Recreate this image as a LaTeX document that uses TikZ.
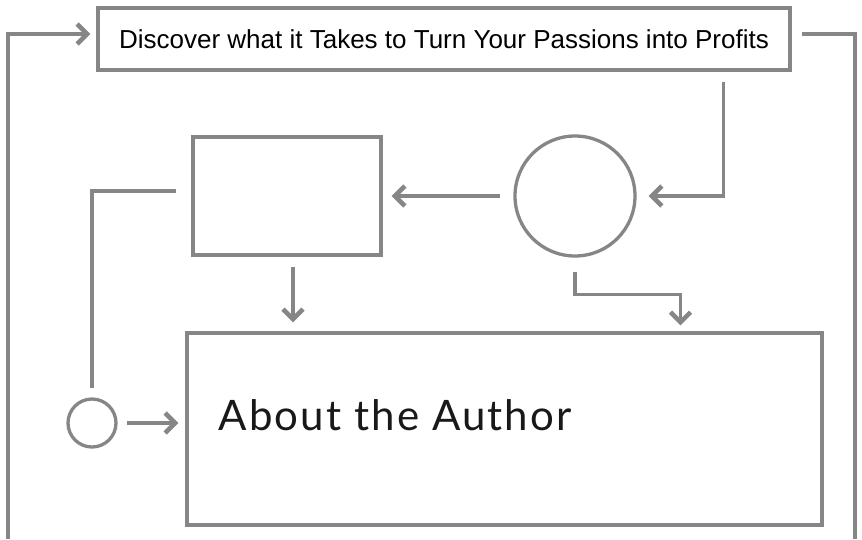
\documentclass[tikz,border=0pt]{standalone}
\usepackage{fontspec}
\setmainfont{Liberation Sans}
\newfontfamily\handfont[LetterSpace=5]{Lato}
\usetikzlibrary{arrows.meta,positioning}

\begin{document}
\begin{tikzpicture}[x=1pt,y=-1pt, box/.style={draw=gray!95,line width=3.3pt,fill=white,inner sep=0pt}, roundbox/.style={draw=gray!95,line width=3.3pt,circle,inner sep=0pt}, line/.style={draw=gray!95,line width=3.3pt}, arrow/.style={line,-{Straight Barb[length=10pt,width=20pt,line width=4.5pt]}}]
\useasboundingbox (0,0) rectangle (862,539);
\node[box,minimum width=692pt,minimum height=62pt,font=\fontsize{26}{30}\selectfont] (title) at (444,39) {Discover what it Takes to Turn Your Passions into Profits};
\node[box,minimum width=188pt,minimum height=118pt] (rect) at (287,196) {};
\node[roundbox,minimum size=120pt] (circ) at (575,196) {};
\node[box,minimum width=635pt,minimum height=192pt] (big) at (504.5,429) {};
\node[roundbox,minimum size=48pt] (dot) at (92,423) {};
\node[anchor=west,font=\handfont\fontsize{42}{46}\selectfont,text=black!90] (author) at ([xshift=30pt,yshift=14pt]big.west) {About the Author};
\coordinate (lb) at (8,539);
\coordinate (rb) at (855,539);
\draw[arrow,shorten >=6pt] (lb) |- ([yshift=5pt]title.west);
\draw[line] ([xshift=10pt,yshift=5pt]title.east) -| (rb);
\draw[arrow,shorten >=12pt] ([xshift=-68pt,yshift=-10pt]title.south east) |- (circ.east);
\draw[arrow,shorten <=13pt,shorten >=9pt] (circ.west) -- (rect.east);
\draw[line] ([xshift=-15pt,yshift=5pt]rect.west) -| ([yshift=9pt]dot.north);
\draw[arrow,shorten <=10pt,shorten >=9pt] ([xshift=6pt]rect.south) -- ([xshift=6pt]rect.south |- big.north);
\draw[arrow] ([yshift=-14pt]circ.south) -- ++(0,23) -| ([xshift=176pt,yshift=6pt]big.north);
\draw[arrow,shorten <=9pt,shorten >=7pt] (dot.east) -- (dot.east -| big.west);
\end{tikzpicture}
\end{document}
